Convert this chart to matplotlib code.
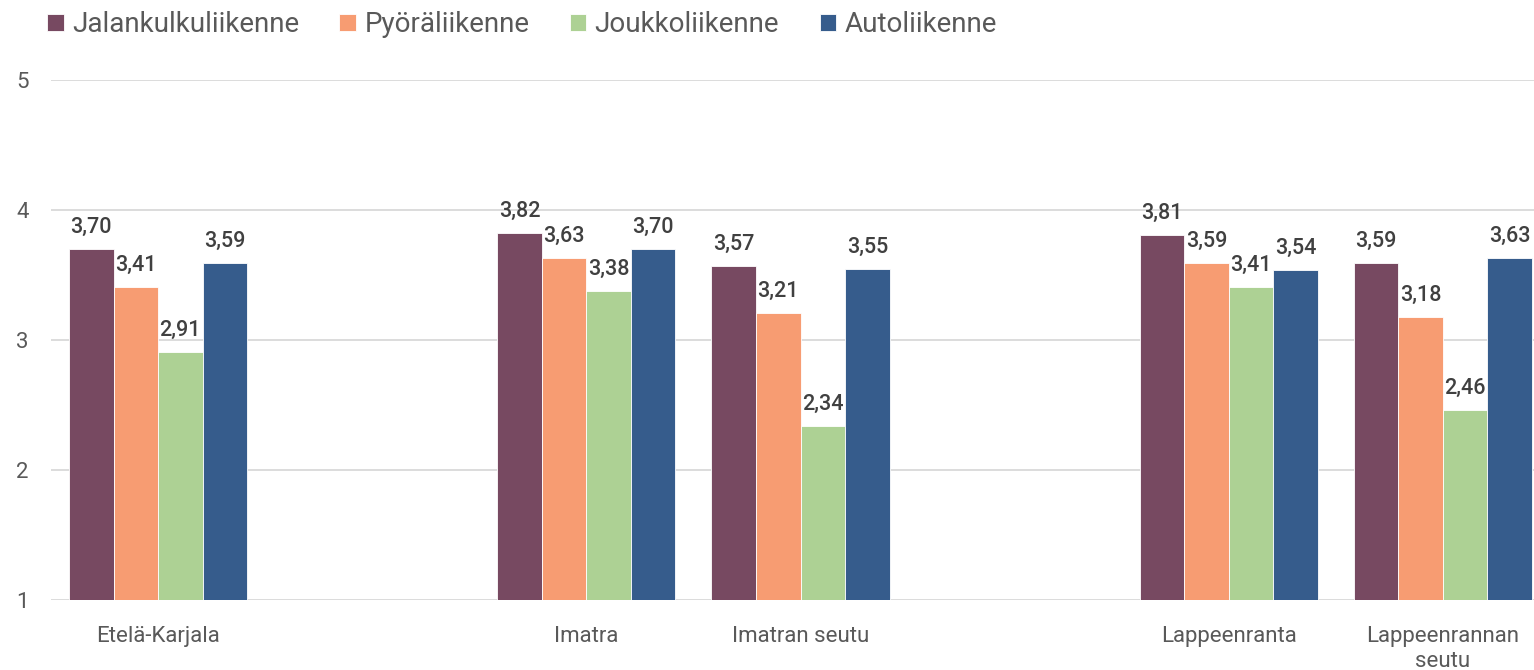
import numpy as np
import matplotlib.pyplot as plt

plt.rcParams['font.family'] = ['Roboto', 'DejaVu Sans']

categories = ['Etelä-Karjala', '', 'Imatra', 'Imatran seutu', '', 'Lappeenranta', 'Lappeenrannan\nseutu']
series = ['Jalankulkuliikenne', 'Pyöräliikenne', 'Joukkoliikenne', 'Autoliikenne']
jalankulku = [3.70, np.nan, 3.82, 3.57, np.nan, 3.81, 3.59]
pyora = [3.41, np.nan, 3.63, 3.21, np.nan, 3.59, 3.18]
joukko = [2.91, np.nan, 3.38, 2.34, np.nan, 3.41, 2.46]
auto = [3.59, np.nan, 3.70, 3.55, np.nan, 3.54, 3.63]
colors = ['#774961', '#F79C72', '#ADD194', '#365C8C']

fig = plt.figure(figsize=(15.34, 6.7), dpi=100)
# axes runs a bit past the right edge, like the cropped original
ax = fig.add_axes([51/1534, 70/670, 1499/1534, 520/670])

x = np.arange(len(categories))
w = 0.208
values = [jalankulku, pyora, joukko, auto]
for i, (name, vals, c) in enumerate(zip(series, values, colors)):
    vals = np.array(vals, dtype=float)
    pos = x + (i - 1.5) * w
    ax.bar(pos, vals - 1, width=w, bottom=1, color=c, label=name,
           edgecolor='white', linewidth=0.6)
    for p, v in zip(pos, vals):
        if np.isnan(v):
            continue
        ax.annotate(f'{v:.2f}'.replace('.', ','), (p, v), xytext=(0, 8),
                    textcoords='offset points', ha='center', va='bottom',
                    fontsize=15.5, fontweight='medium', color='#404040')

ax.set_xlim(-0.5, len(categories) - 0.5)
ax.set_ylim(1, 5)
ax.set_yticks([1, 2, 3, 4, 5])
ax.set_xticks(x)
ax.set_xticklabels(categories)
ax.grid(axis='y', color='#d9d9d9', linewidth=1.3)
ax.set_axisbelow(True)
for s in ax.spines.values():
    s.set_visible(False)
ax.tick_params(axis='both', length=0, labelsize=16, colors='#595959')
ax.tick_params(axis='y', pad=16)
ax.tick_params(axis='x', pad=19)

fig.legend(loc='upper left', bbox_to_anchor=(0.018, 1.012), ncol=4, frameon=False,
           fontsize=20, handlelength=0.6, handleheight=0.6, handletextpad=0.3,
           columnspacing=1.45, labelcolor='#595959', borderaxespad=0.3)

fig.savefig('out.png', dpi=100)
